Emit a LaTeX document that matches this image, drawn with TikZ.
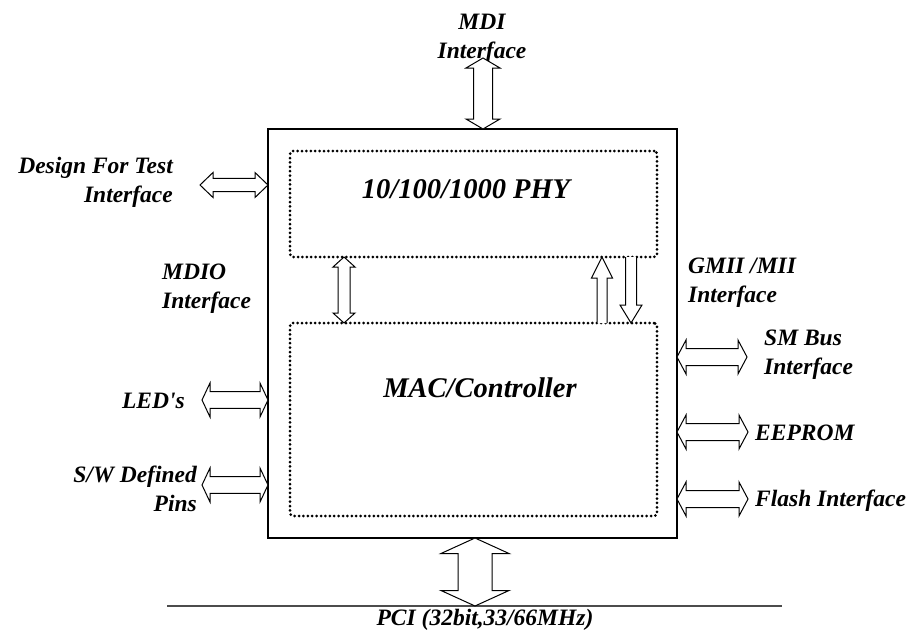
\documentclass[tikz,border=0pt]{standalone}
\usepackage{fontspec}
\setmainfont{Liberation Serif}
\usetikzlibrary{calc,positioning}

\tikzset{
  lbl/.style={font=\fontsize{23.5}{29}\selectfont\bfseries\itshape, inner sep=0pt},
  title/.style={font=\fontsize{28.5}{34}\selectfont\bfseries\itshape, inner sep=0pt},
  chipbox/.style={draw, line width=2.6pt, inner sep=0pt, outer sep=0pt},
  dotbox/.style={draw, line width=3pt, dash pattern=on 0pt off 4.4pt, line cap=round, rounded corners=3pt, inner sep=0pt, outer sep=0pt},
  fatarrow/.style={draw, fill=white, line width=1pt, line join=miter},
  busline/.style={draw=black!70, line width=1.4pt},
}

% double block arrow: ends, head length, head half width, shaft half width
\newcommand{\dblarrow}[5]{%
  \coordinate (hA) at ($(#1)!#3!(#2)$);
  \coordinate (hB) at ($(#2)!#3!(#1)$);
  \draw[fatarrow] (#1) -- ($(hA)!#4!90:(#2)$) -- ($(hA)!#5!90:(#2)$)
    -- ($(hB)!#5!-90:(#1)$) -- ($(hB)!#4!-90:(#1)$) -- (#2)
    -- ($(hB)!#4!90:(#1)$) -- ($(hB)!#5!90:(#1)$)
    -- ($(hA)!#5!-90:(#2)$) -- ($(hA)!#4!-90:(#2)$) -- cycle;
}
% single block arrow, open base at #1, tip at #2
\newcommand{\sglarrow}[5]{%
  \coordinate (hB) at ($(#2)!#3!(#1)$);
  \draw[fatarrow] ($(#1)!#5!-90:(#2)$) -- ($(hB)!#5!90:(#1)$) -- ($(hB)!#4!90:(#1)$)
    -- (#2) -- ($(hB)!#4!-90:(#1)$) -- ($(hB)!#5!-90:(#1)$) -- ($(#1)!#5!90:(#2)$);
}

\begin{document}
\begin{tikzpicture}[x=1pt,y=1pt,yscale=-1]
	\useasboundingbox (0,0) rectangle (919,638);
	
	% chip and blocks
	\node[chipbox, minimum width=409pt, minimum height=409pt] (chip) at (472.5,333.5) {};
	\node[dotbox, minimum width=367pt, minimum height=106pt] (phy) at (473.5,204) {};
	\node[dotbox, minimum width=367pt, minimum height=193pt] (mac) at (473.5,419.5) {};
	\node[title, anchor=base] (phylbl) at (466,198) {10/100/1000 PHY};
	\node[title, anchor=base] (maclbl) at (480,397) {MAC/Controller};
	
	% interface labels
	\node[lbl, align=center] (mdi) at (482,39) {MDI\\Interface};
	\node[lbl, align=right, anchor=east] (dft) at (173,182) {Design For Test\\Interface};
	\node[lbl, align=left, anchor=west] (mdio) at (162,289) {MDIO\\Interface};
	\node[lbl, align=left, anchor=west] (gmii) at (688,283) {GMII /MII\\Interface};
	\node[lbl, align=left, anchor=west] (smbus) at (764,355) {SM Bus\\Interface};
	\node[lbl, anchor=base west] (eeprom) at (755,440) {EEPROM};
	\node[lbl, anchor=base west] (flash) at (755,506) {Flash Interface};
	\node[lbl, anchor=base east] (leds) at (185,408) {LED\textquotesingle s};
	\node[lbl, align=right, anchor=east] (swpins) at (197,489) {S/W Defined\\Pins};
	\node[lbl, anchor=base] (pci) at (485,625) {PCI (32bit,33/66MHz)};
	
	% bus
	\coordinate (bus-l) at (167,606);
	\coordinate (bus-r) at (782,606);
	\draw[busline] (bus-l) -- (bus-r);
	
	% arrow ends
	\coordinate (mdi-end) at (483,58);
	\coordinate (dft-end) at (200,185);
	\coordinate (led-end) at (202,400);
	\coordinate (sw-end) at (202,485);
	\coordinate (sm-end) at (747,357);
	\coordinate (ee-end) at (748,432);
	\coordinate (fl-end) at (748,499);
	\coordinate (mdio-x) at (344,0);
	\coordinate (up-x) at (602,0);
	\coordinate (dn-x) at (631,0);
	\coordinate (pci-x) at (475,0);
	
	\dblarrow{mdi-end}{mdi-end |- chip.north}{10pt}{17pt}{9.5pt}
	\dblarrow{dft-end}{dft-end -| chip.west}{13pt}{12.5pt}{6.7pt}
	\dblarrow{led-end}{led-end -| chip.west}{8pt}{17pt}{8.3pt}
	\dblarrow{sw-end}{sw-end -| chip.west}{8pt}{17pt}{8.3pt}
	\dblarrow{sm-end -| chip.east}{sm-end}{9pt}{17pt}{8.5pt}
	\dblarrow{ee-end -| chip.east}{ee-end}{9pt}{17pt}{8.5pt}
	\dblarrow{fl-end -| chip.east}{fl-end}{9pt}{17pt}{8.5pt}
	\dblarrow{mdio-x |- phy.south}{mdio-x |- mac.north}{10pt}{11pt}{6pt}
	\sglarrow{up-x |- mac.north}{up-x |- phy.south}{21pt}{10.5pt}{5pt}
	\sglarrow{dn-x |- phy.south}{dn-x |- mac.north}{18pt}{11pt}{5.5pt}
	\dblarrow{pci-x |- chip.south}{pci-x |- bus-l}{15.5pt}{34pt}{17pt}
	
\end{tikzpicture}
\end{document}
